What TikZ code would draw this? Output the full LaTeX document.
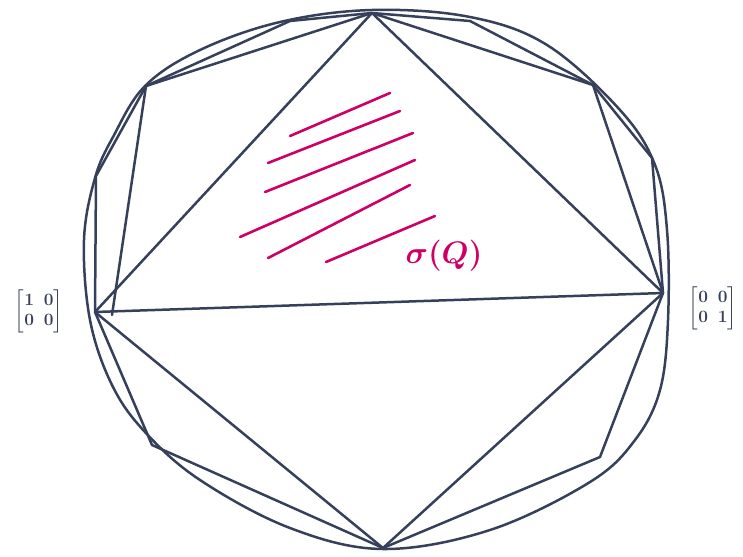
\documentclass[tikz,border=0pt]{standalone}
\usepackage{amsmath,amssymb}
\usepackage{tikz}
\usetikzlibrary{calc}
\usepackage{xcolor}
\definecolor{ink}{HTML}{36405A}
\definecolor{pen}{HTML}{CC0066}
\tikzset{
  edge/.style={draw=ink,line width=2.5pt,line cap=round,line join=round},
  rim/.style={draw=ink,line width=2.5pt,line cap=round},
  hatch/.style={draw=pen,line width=2.6pt,line cap=round},
  matlabel/.style={text=ink,inner sep=0pt,font=\fontsize{18}{20}\selectfont},
  setlabel/.style={text=pen,inner sep=0pt,font=\Huge}
}

\begin{document}
\begin{tikzpicture}[x=1pt,y=-1pt]
  \useasboundingbox (0,0) rectangle (743,556);
  % vertices of the inscribed polygon
  \coordinate (t)  at (372,13);
  \coordinate (p1) at (470,21);
  \coordinate (v5) at (593,85);
  \coordinate (v4) at (652,158);
  \coordinate (r)  at (663,293);
  \coordinate (v6) at (600,457);
  \coordinate (b)  at (383,548);
  \coordinate (v3) at (152,445);
  \coordinate (l)  at (95,312);
  \coordinate (v2) at (96,176);
  \coordinate (v1) at (146,86);
  \coordinate (p0) at (290,21);
  \coordinate (l2) at (112,315);
  % outer circle
  \draw[rim] plot[smooth cycle,tension=0.6] coordinates {
    (372,10) (470,17) (547,45) (620,110) (655,165) (667,230) (668,320)
    (660,390) (635,440) (590,482) (490,530) (383,549) (290,528) (200,480)
    (145,432) (112,385) (90,320) (84,240) (95,178) (113,137) (145,86)
    (200,50) (280,22)};
  % polygon
  \draw[edge] (t) -- (p1) -- (v5) -- (v4) -- (r) -- (v6) -- (b) -- (v3)
    -- (l) -- (v2) -- (v1) -- (p0) -- cycle;
  % chords
  \draw[edge] (t) -- (v1);
  \draw[edge] (t) -- (v5);
  \draw[edge] (v1) -- (l2);
  \draw[edge] (v5) -- (r);
  \draw[edge] (t) -- (l);
  \draw[edge] (t) -- (r);
  \draw[edge] (l) -- (r);
  \draw[edge] (l) -- (b);
  \draw[edge] (r) -- (b);
  % hatching of sigma(Q)
  \draw[hatch] (290,136) -- (390,93);
  \draw[hatch] (268,163) -- (400,111);
  \draw[hatch] (265,192) -- (413,133);
  \draw[hatch] (240,237) -- (415,160);
  \draw[hatch] (268,258) -- (410,185);
  \draw[hatch] (326,262) -- (435,216);
  \node[setlabel] (sq) at (444,256) {\scalebox{1.25}{$\boldsymbol{\sigma(Q)}$}};
  \node[matlabel] (m1) at (39,311)
    {$\setlength{\arraycolsep}{5pt}\begin{bmatrix}\mathbf{1}&\mathbf{0}\\\mathbf{0}&\mathbf{0}\end{bmatrix}$};
  \node[matlabel] (m2) at (713,308)
    {$\setlength{\arraycolsep}{5pt}\begin{bmatrix}\mathbf{0}&\mathbf{0}\\\mathbf{0}&\mathbf{1}\end{bmatrix}$};
\end{tikzpicture}
\end{document}
